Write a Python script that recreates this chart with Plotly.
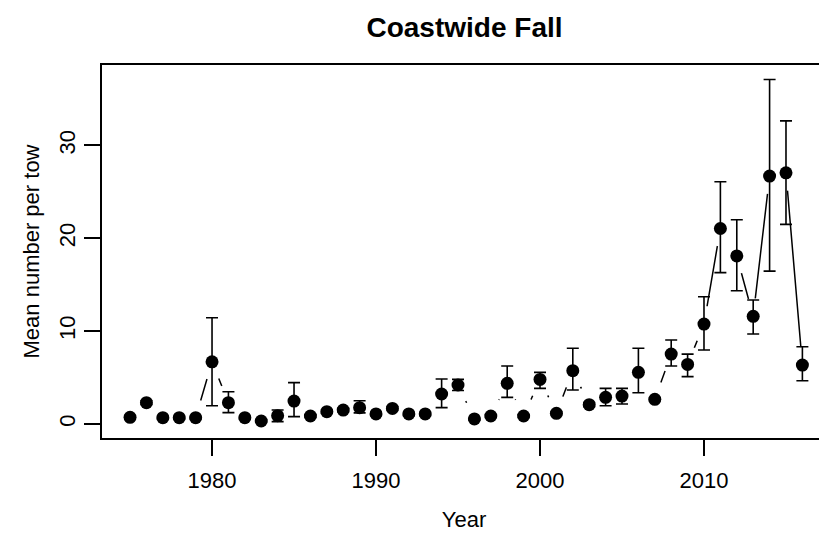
import plotly.graph_objects as go

years = list(range(1975, 2017))
mean_per_tow = [0.72, 2.3, 0.68, 0.68, 0.68, 6.7, 2.3, 0.68, 0.32, 0.9, 2.47, 0.86, 1.33, 1.5,
                1.76, 1.08, 1.68, 1.08, 1.08, 3.23, 4.2, 0.54, 0.86, 4.38, 0.86, 4.8, 1.15, 5.74, 2.08,
                2.87, 3.01, 5.56, 2.66, 7.53, 6.42, 10.76, 21.06, 18.1, 11.6, 26.7, 27.05, 6.35]
upper = [0.9, 2.5, 0.8, 0.8, 0.8, 11.44, 3.48, 0.8, 0.45, 1.5, 4.45, 1.0, 1.5, 1.7,
         2.5, 1.25, 1.85, 1.25, 1.25, 4.84, 4.8, 0.65, 1.0, 6.24, 1.0, 5.56, 1.3, 8.15, 2.3,
         3.84, 3.84, 8.15, 2.8, 9.04, 7.53, 13.7, 26.1, 22.0, 13.35, 37.1, 32.65, 8.32]
lower = [0.55, 2.1, 0.55, 0.55, 0.55, 1.97, 1.22, 0.55, 0.2, 0.25, 0.79, 0.7, 1.15, 1.3,
         1.2, 0.9, 1.5, 0.9, 0.9, 1.76, 3.6, 0.42, 0.7, 2.87, 0.7, 3.84, 1.0, 3.66, 1.85,
         1.97, 2.15, 3.37, 2.5, 6.24, 5.1, 7.97, 16.3, 14.35, 9.69, 16.47, 21.5, 4.66]

x_ticks = [1980, 1990, 2000, 2010]
y_ticks = [0, 10, 20, 30]

err_plus = [u - m for u, m in zip(upper, mean_per_tow)]
err_minus = [m - l for m, l in zip(mean_per_tow, lower)]

FONT = "Liberation Sans, Arial, sans-serif"
# page has an 8px body margin; size the figure so the plot sits where the reference has it
W, H = 819, 526
L, R, T, B = 94, 1, 57, 96

fig = go.Figure()
# connecting line (R type="b")
fig.add_trace(go.Scatter(x=years, y=mean_per_tow, mode="lines",
                         line=dict(color="black", width=1.5), hoverinfo="skip", showlegend=False))
# white halos to create gaps around points
fig.add_trace(go.Scatter(x=years, y=mean_per_tow, mode="markers",
                         marker=dict(color="white", size=36, line=dict(width=0)),
                         hoverinfo="skip", showlegend=False))
# points with error bars
fig.add_trace(go.Scatter(x=years, y=mean_per_tow, mode="markers",
                         marker=dict(color="black", size=13, line=dict(width=0)),
                         error_y=dict(type="data", symmetric=False, array=err_plus, arrayminus=err_minus,
                                      color="black", thickness=1.6, width=6),
                         showlegend=False))

fig.update_layout(
    width=W, height=H,
    margin=dict(l=L, r=R, t=T, b=B),
    paper_bgcolor="white", plot_bgcolor="white",
    font=dict(family=FONT, size=22, color="black"),
    title=dict(text="<b>Coastwide Fall</b>", x=456.5 / W, xanchor="center", xref="container",
               y=1 - 19 / H, yanchor="middle", yref="container",
               font=dict(size=28, family=FONT, color="black")),
    showlegend=False,
)
fig.update_xaxes(range=[1973.29, 2017.44], tickvals=x_ticks, ticktext=[str(v) for v in x_ticks],
                 ticks="outside", ticklen=16, tickwidth=1.5, tickcolor="black",
                 showline=True, linecolor="black", linewidth=1.5, mirror=True,
                 showgrid=False, zeroline=False, ticklabelstandoff=6, automargin=False,
                 tickfont=dict(size=22, family=FONT),
                 title=dict(text="Year", standoff=19, font=dict(size=22, family=FONT)))
fig.update_yaxes(range=[-1.51, 38.67], tickvals=y_ticks, ticktext=[str(v) for v in y_ticks],
                 ticks="outside", ticklen=16, tickwidth=1.5, tickcolor="black", tickangle=-90,
                 showline=True, linecolor="black", linewidth=1.5, mirror=True,
                 showgrid=False, zeroline=False, ticklabelstandoff=0, automargin=False,
                 tickfont=dict(size=22, family=FONT),
                 title=dict(text="Mean number per tow", standoff=10, font=dict(size=22, family=FONT)))

fig.write_html("out.html")
